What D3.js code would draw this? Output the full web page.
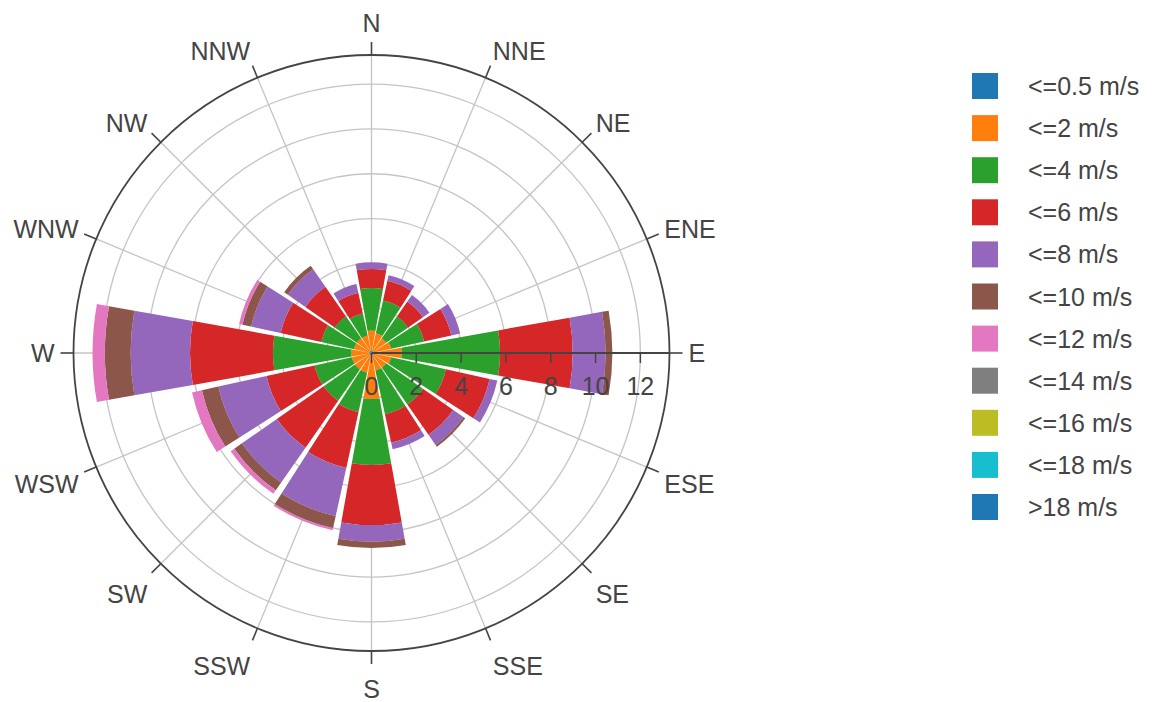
<!DOCTYPE html>
<html>
<head>
<meta charset="utf-8">
<script src="https://cdn.jsdelivr.net/npm/d3@7"></script>
<style>
  html, body { margin: 0; padding: 0; background: #fff; }
  svg { display: block; font-family: "Liberation Sans", Arial, sans-serif; }
</style>
</head>
<body>
<svg id="chart" width="1158" height="702"></svg>
<script>
// Compass sectors, clockwise from north
const directions = ["N", "NNE", "NE", "ENE", "E", "ESE", "SE", "SSE",
                    "S", "SSW", "SW", "WSW", "W", "WNW", "NW", "NNW"];

// Speed classes (legend order)
const speedBins = ["<=0.5 m/s", "<=2 m/s", "<=4 m/s", "<=6 m/s", "<=8 m/s", "<=10 m/s",
                   "<=12 m/s", "<=14 m/s", "<=16 m/s", "<=18 m/s", ">18 m/s"];
const binColors = ["#1f77b4", "#ff7f0e", "#2ca02c", "#d62728", "#9467bd", "#8c564b",
                   "#e377c2", "#7f7f7f", "#bcbd22", "#17becf", "#1f77b4"];

// Frequency (%) per direction for each speed class
const freq05 = [0.1, 0.1, 0.1, 0.1, 0.1, 0.1, 0.1, 0.1, 0.1, 0.1, 0.1, 0.1, 0.1, 0.1, 0.1, 0.1];
const freq2  = [0.9, 0.8, 0.7, 0.8, 1.25, 0.8, 0.7, 0.7, 1.95, 0.8, 0.8, 0.8, 0.8, 0.7, 0.7, 0.7];
const freq4  = [1.9, 1.5, 1.2, 1.5, 4.39, 2.5, 2.0, 2.0, 2.95, 1.8, 1.7, 1.7, 3.5, 1.5, 1.2, 1.0];
const freq6  = [0.85, 0.9, 0.8, 1.25, 3.24, 2.0, 1.65, 1.3, 2.68, 2.55, 2.55, 2.2, 3.7, 1.85, 1.6, 0.95];
const freq8  = [0.3, 0.25, 0.35, 0.4, 1.47, 0.35, 0.55, 0.3, 0.74, 2.2, 1.9, 2.2, 2.65, 1.35, 0.95, 0.4];
const freq10 = [0, 0, 0, 0, 0.3, 0, 0.1, 0, 0.28, 0.55, 0.42, 0.75, 1.15, 0.4, 0.2, 0];
const freq12 = [0, 0, 0, 0, 0, 0, 0, 0, 0, 0.1, 0.19, 0.45, 0.55, 0.15, 0, 0];
const freq14 = [0, 0, 0, 0, 0, 0, 0, 0, 0, 0, 0, 0, 0, 0, 0, 0];
const freq16 = [0, 0, 0, 0, 0, 0, 0, 0, 0, 0, 0, 0, 0, 0, 0, 0];
const freq18 = [0, 0, 0, 0, 0, 0, 0, 0, 0, 0, 0, 0, 0, 0, 0, 0];
const freqAbove18 = [0, 0, 0, 0, 0, 0, 0, 0, 0, 0, 0, 0, 0, 0, 0, 0];
const seriesValues = [freq05, freq2, freq4, freq6, freq8, freq10, freq12,
                      freq14, freq16, freq18, freqAbove18];

// Radial axis ticks
const radialTicks = [0, 2, 4, 6, 8, 10, 12];
const radialMax = 13.3;

// Geometry
const cx = 371.5, cy = 353, R = 298;
const textColor = "#444";
const fontSize = 25;

const svg = d3.select("#chart");
const g = svg.append("g").attr("transform", `translate(${cx},${cy})`);

const rScale = d3.scaleLinear().domain([0, radialMax]).range([0, R]);
const sector = 360 / directions.length;
const angScale = d3.scaleBand().domain(directions).range([0, 2 * Math.PI]).paddingInner(0);
const centerAngle = d => angScale(d); // each sector is centred on its compass direction
const halfWidth = (sector * 0.9 / 2) * Math.PI / 180;

// Circular grid
g.append("g").selectAll("circle")
  .data(radialTicks.filter(t => t > 0))
  .join("circle")
  .attr("r", d => rScale(d))
  .attr("fill", "none")
  .attr("stroke", "#c4c4c4")
  .attr("stroke-width", 1.3);

// Spoke grid
g.append("g").selectAll("line")
  .data(directions)
  .join("line")
  .attr("x1", 0).attr("y1", 0)
  .attr("x2", d => R * Math.sin(centerAngle(d)))
  .attr("y2", d => -R * Math.cos(centerAngle(d)))
  .attr("stroke", "#c4c4c4")
  .attr("stroke-width", 1.3);

// Stacked wedges
const stacked = directions.map((dir, i) => {
  let acc = 0;
  return seriesValues.map((vals, k) => {
    const v0 = acc;
    acc += vals[i];
    return { dir, k, r0: v0, r1: acc };
  }).filter(s => s.r1 > s.r0);
}).flat();

const arc = d3.arc()
  .innerRadius(d => rScale(d.r0))
  .outerRadius(d => rScale(d.r1))
  .startAngle(d => centerAngle(d.dir) - halfWidth)
  .endAngle(d => centerAngle(d.dir) + halfWidth);

g.append("g").selectAll("path")
  .data(stacked)
  .join("path")
  .attr("d", arc)
  .attr("fill", d => binColors[d.k]);

// Outer frame of the polar area
g.append("circle")
  .attr("r", R)
  .attr("fill", "none")
  .attr("stroke", textColor)
  .attr("stroke-width", 1.8);

// Radial axis line along east with ticks and labels
g.append("line")
  .attr("x1", 0).attr("y1", 0).attr("x2", R).attr("y2", 0)
  .attr("stroke", textColor).attr("stroke-width", 2);
g.append("g").selectAll("line")
  .data(radialTicks)
  .join("line")
  .attr("x1", d => rScale(d)).attr("x2", d => rScale(d))
  .attr("y1", 0).attr("y2", 10)
  .attr("stroke", textColor).attr("stroke-width", 1.5);
g.append("g").selectAll("text")
  .data(radialTicks)
  .join("text")
  .attr("x", d => rScale(d))
  .attr("y", 42)
  .attr("text-anchor", "middle")
  .attr("fill", textColor)
  .attr("font-size", fontSize)
  .text(d => d);

// Angular ticks and labels
const tickLen = 13, pad = 19;
g.append("g").selectAll("line")
  .data(directions)
  .join("line")
  .attr("x1", d => R * Math.sin(centerAngle(d)))
  .attr("y1", d => -R * Math.cos(centerAngle(d)))
  .attr("x2", d => (R + tickLen) * Math.sin(centerAngle(d)))
  .attr("y2", d => -(R + tickLen) * Math.cos(centerAngle(d)))
  .attr("stroke", textColor).attr("stroke-width", 1.6);

g.append("g").selectAll("text")
  .data(directions)
  .join("text")
  .attr("x", d => (R + pad) * Math.sin(centerAngle(d)))
  .attr("y", d => {
    const a = centerAngle(d);
    const c = Math.cos(a);           // upward component
    const s = Math.abs(Math.sin(a)); // horizontal component
    const ff = c > 0 ? 0.15 : 1.1;
    return -c * (R + pad + fontSize * ff) + s * fontSize * 0.35;
  })
  .attr("text-anchor", d => {
    const sx = Math.sin(centerAngle(d));
    return Math.abs(sx) < 0.1 ? "middle" : (sx > 0 ? "start" : "end");
  })
  .attr("fill", textColor)
  .attr("font-size", fontSize)
  .text(d => d);

// Legend
const legend = svg.append("g").attr("transform", "translate(972,73)");
const rowH = 42.1;
const rows = legend.selectAll("g")
  .data(speedBins)
  .join("g")
  .attr("transform", (d, i) => `translate(0,${i * rowH})`);
rows.append("rect")
  .attr("width", 26).attr("height", 26)
  .attr("fill", (d, i) => binColors[i]);
rows.append("text")
  .attr("x", 56).attr("y", 22)
  .attr("fill", textColor)
  .attr("font-size", fontSize)
  .text(d => d);
</script>
</body>
</html>
